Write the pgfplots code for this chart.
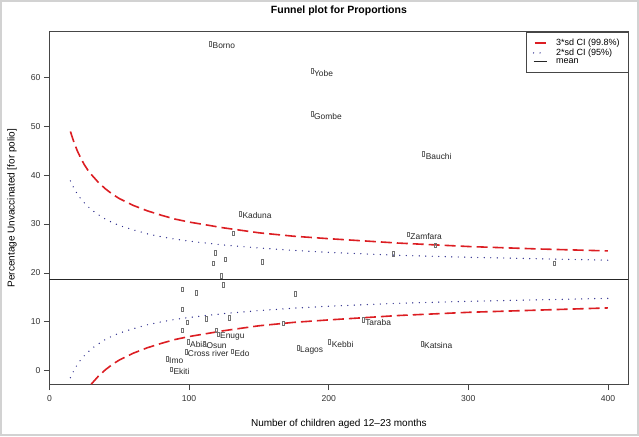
\documentclass[border=0pt]{standalone}
\usepackage{fontspec}
\setmainfont{Liberation Sans}
\usepackage{pgfplots}
\usepackage{pgfplotstable}
\pgfplotsset{compat=1.18}
\definecolor{cired}{RGB}{220,30,35}
\definecolor{cinavy}{RGB}{45,45,140}
\definecolor{boxgray}{RGB}{70,70,70}

% control limits
\pgfplotstableread{
n     up3   up2   lo2   lo3
15    48.9  38.8  -1.4  -11.5
17.5  46.7  37.3  0.1   -9.3
20    44.9  36.1  1.3   -7.5
22.5  43.4  35.1  2.3   -6.0
25    42.1  34.3  3.1   -4.7
27.5  41.0  33.6  3.8   -3.6
30    40.1  32.9  4.5   -2.7
35    38.5  31.9  5.5   -1.1
40    37.2  31.0  6.4   0.2
45    36.1  30.3  7.1   1.3
50    35.2  29.7  7.7   2.2
60    33.8  28.8  8.6   3.6
70    32.7  28.0  9.4   4.7
80    31.8  27.4  10.0  5.6
90    31.0  26.9  10.5  6.4
100   30.4  26.5  10.9  7.0
125   29.2  25.7  11.7  8.2
150   28.2  25.1  12.3  9.2
175   27.5  24.6  12.8  9.9
200   27.0  24.2  13.2  10.4
250   26.1  23.6  13.8  11.3
300   25.4  23.2  14.2  11.95
350   24.9  22.9  14.5  12.4
400   24.5  22.6  14.8  12.85
}\funnel

\pgfplotstableread[col sep=comma]{
x,y,label
115.3,66.8,Borno
188.0,61.3,Yobe
188.0,52.5,Gombe
268.0,44.3,Bauchi
136.7,32.1,Kaduna
257.0,27.9,Zamfara
276.4,25.7,
246.5,24.0,
361.2,22.0,
131.4,28.1,
118.8,24.2,
126.2,22.8,
117.1,22.0,
152.2,22.3,
123.1,19.4,
124.3,17.6,
94.9,16.7,
105.2,16.0,
176.1,15.8,
94.9,12.6,
98.8,9.9,
111.9,10.7,
128.4,10.9,
95.2,8.3,
167.3,9.7,
119.5,8.3,
120.7,7.5,Enugu
224.6,10.4,Taraba
99.2,5.9,Abia
110.9,5.5,Osun
97.6,3.9,Cross river
131.0,4.0,Edo
178.0,4.7,Lagos
200.7,5.9,Kebbi
266.8,5.6,Katsina
84.2,2.5,Imo
87.3,0.3,Ekiti
}\states

\begin{document}
\begin{tikzpicture}
\begin{axis}[
  name=ax,
  scale only axis,
  width=578.8pt, height=352.8pt,
  xmin=0, xmax=414.6,
  ymin=-2.8, ymax=69.3,
  xtick={0,100,...,400},
  ytick={0,10,...,60},
  tick align=outside, tick pos=left,
  major tick length=5.5pt,
  axis line style={boxgray, line width=0.8pt},
  tick style={boxgray, line width=0.8pt},
  /pgf/number format/assume math mode=true,
  tick label style={font=\fontsize{8.6}{10}\selectfont, text=black!80},
  xticklabel style={yshift=-2pt},
  label style={font=\fontsize{8.6}{10}\selectfont, text=black!85},
  every axis x label/.style={at={(rel axis cs:0.5,0)}, anchor=center, yshift=-39.5pt},
  every axis y label/.style={at={(rel axis cs:0,0.5)}, xshift=-37.5pt, rotate=90, anchor=center},
  every axis title/.style={at={(rel axis cs:0.5,1)}, anchor=center, yshift=20.7pt,
    font=\fontsize{10.5}{12}\selectfont\bfseries},
  title={Funnel plot for Proportions},
  xlabel={Number of children aged 12\textendash23 months},
  ylabel={Percentage Unvaccinated [for polio]},
  legend style={at={(1,1)}, anchor=north east, draw=boxgray,
    font=\fontsize{9}{10}\selectfont, inner xsep=7pt, inner ysep=6pt,
    row sep=-1.5pt, nodes={inner sep=1.5pt}},
  legend cell align=left,
]
\addplot[only marks, mark=square, mark size=1.8pt,
  mark options={xscale=0.55, yscale=1.3, draw=black!55, line width=0.4pt},
  nodes near coords, point meta=explicit symbolic,
  nodes near coords style={anchor=west, inner sep=0pt, xshift=2pt, yshift=-2.2pt,
    font=\fontsize{8.4}{10}\selectfont, text=black!85},
  forget plot] table[x=x, y=y, meta=label] {\states};

\addplot[cired, line width=1.6pt, dash pattern=on 11pt off 5pt,
  legend image code/.code={\draw[cired, line width=2pt, solid] (1pt,0pt) -- (12pt,0pt); \path[draw=none] (0pt,0pt) -- (21pt,0pt);}]
  table[x=n, y=up3] {\funnel};
\addlegendentry{3*sd CI (99.8\%)}
\addplot[cired, line width=1.6pt, dash pattern=on 11pt off 5pt, forget plot] table[x=n, y=lo3] {\funnel};
\addplot[cinavy, line width=1.4pt, line cap=round, dash pattern=on 0pt off 6.5pt,
  legend image code/.code={\draw[cinavy, line width=1.4pt, line cap=round, dash pattern=on 0pt off 6.5pt] (0pt,0pt) -- (13pt,0pt); \path[draw=none] (0pt,0pt) -- (21pt,0pt);}]
  table[x=n, y=up2] {\funnel};
\addlegendentry{2*sd CI (95\%)}
\addplot[cinavy, line width=1.4pt, line cap=round, dash pattern=on 0pt off 6.5pt, forget plot] table[x=n, y=lo2] {\funnel};
\addplot[black!85, line width=1.4pt,
  legend image code/.code={\draw[black!85, line width=1.6pt] (0pt,0pt) -- (13pt,0pt); \path[draw=none] (0pt,0pt) -- (21pt,0pt);}]
  coordinates {(-10,18.7) (430,18.7)};
\addlegendentry{mean}
\end{axis}
\draw[gray!35, line width=2pt] ([shift={(-48.5pt,-50.5pt)}]ax.south west) rectangle ++(637pt,434pt);
\end{tikzpicture}
\end{document}
